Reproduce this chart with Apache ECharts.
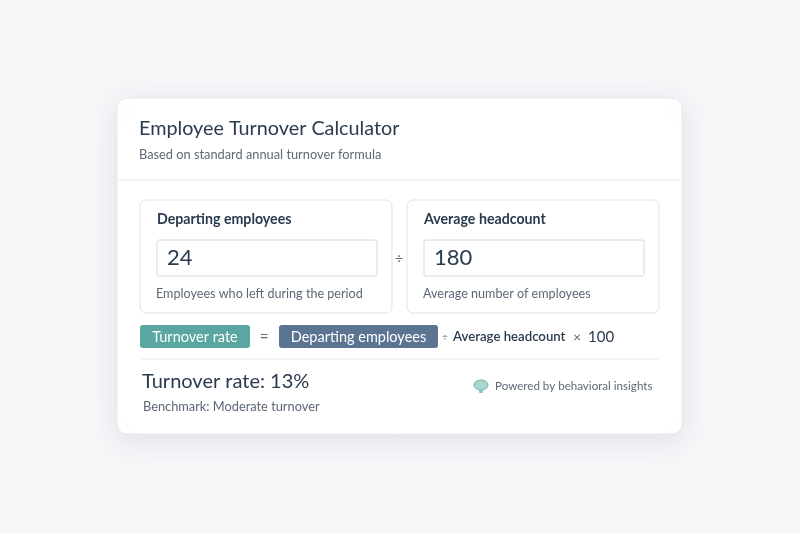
<!DOCTYPE html>
<html><head><meta charset="utf-8">
<script src="https://cdn.jsdelivr.net/npm/echarts@6/dist/echarts.min.js"></script>
<style>html,body{margin:0;background:#f6f7f9}#c{width:800px;height:533px}</style>
</head><body><div id="c"></div>
<script>
const title = 'Employee Turnover Calculator';
const subtitle = 'Based on standard annual turnover formula';
const inputLabels = ['Departing employees', 'Average headcount'];
const inputValues = [24, 180];
const inputHelps = ['Employees who left during the period', 'Average number of employees'];
const multiplier = 100;
const rate = Math.round(inputValues[0] / inputValues[1] * multiplier);
const benchmark = 'Moderate turnover';
const footnote = 'Powered by behavioral insights';

const F = 'Lato, "Noto Sans", sans-serif';
const dark = '#2a3a4f', grey = '#5d6877';
function txt(x, y, s, size, color, weight, align) {
  return {type:'text', x, y, style:{text:String(s), font:(weight||'normal')+' '+size+'px '+F, fill:color, textAlign:align||'left', textVerticalAlign:'middle'}};
}
const els = [
  {type:'rect', shape:{x:117,y:98,width:565,height:336,r:10}, style:{fill:'#fff', stroke:'#e6e9ee', lineWidth:1, shadowBlur:30, shadowColor:'rgba(40,50,70,0.12)', shadowOffsetY:6}},
  txt(139,129,title,19.8,dark),
  txt(139,155,subtitle,12.8,grey),
  {type:'line', shape:{x1:118,y1:180,x2:681,y2:180}, style:{stroke:'#e8ebef', lineWidth:1}},
];
[140,407].forEach((bx,i)=>{
  els.push({type:'rect', shape:{x:bx,y:200,width:252,height:113,r:6}, style:{fill:'#fff', stroke:'#dfe3e8', lineWidth:1}});
  els.push(txt(bx+17,219,inputLabels[i],14.2,dark,'bold'));
  els.push({type:'rect', shape:{x:bx+17,y:240,width:220,height:36,r:2}, style:{fill:'#fff', stroke:'#d5dae0', lineWidth:1}});
  els.push(txt(bx+27,258,inputValues[i],22,dark));
  els.push(txt(bx+16,294,inputHelps[i],12.6,grey));
});
els.push(txt(399,258,'÷',14,grey,'normal','center'));
els.push({type:'rect', shape:{x:140,y:325,width:110,height:23,r:3}, style:{fill:'#5aa6a0'}});
els.push(txt(195,337,'Turnover rate',14.5,'#fff','normal','center'));
els.push(txt(264,337,'=',15,grey,'normal','center'));
els.push({type:'rect', shape:{x:279,y:325,width:159,height:23,r:3}, style:{fill:'#5b7491'}});
els.push(txt(358.5,337,inputLabels[0],14.5,'#fff','normal','center'));
els.push(txt(442,337,'÷',10,grey));
els.push(txt(453,337,inputLabels[1],13.2,dark,'600'));
els.push(txt(577,337,'×',14,grey,'normal','center'));
els.push(txt(588,337,String(multiplier),15,dark));
els.push({type:'line', shape:{x1:141,y1:359,x2:659,y2:359}, style:{stroke:'#e8ebef', lineWidth:1}});
els.push(txt(142,382,'Turnover rate: '+rate+'%',20,dark));
els.push(txt(143,407,'Benchmark: '+benchmark,12.8,grey));
els.push({type:'ellipse', shape:{cx:481,cy:385,rx:7,ry:5}, style:{fill:'#a9d6cf', stroke:'#6fb3a8', lineWidth:1}});
els.push({type:'rect', shape:{x:479,y:389,width:4,height:4,r:1}, style:{fill:'#8cc5bb'}});
els.push(txt(495,386,footnote,11.6,grey));
const chart = echarts.init(document.getElementById('c'));
chart.setOption({backgroundColor:'#f6f7f9', graphic:{elements:els}});
</script></body></html>
